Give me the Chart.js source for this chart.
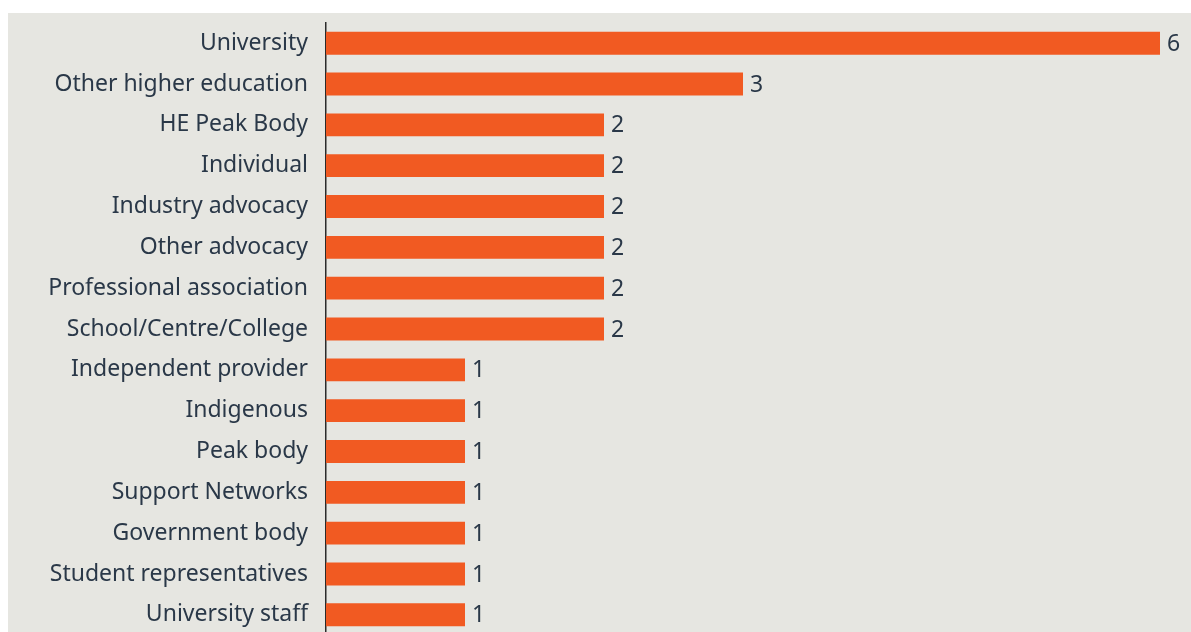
<!DOCTYPE html>
<html>
<head>
<meta charset="utf-8">
<script src="https://cdn.jsdelivr.net/npm/chart.js@4/dist/chart.umd.min.js"></script>
<style>
  html, body { margin: 0; padding: 0; background: #ffffff; overflow: hidden; width: 1191px; height: 632px; position: relative; }
  #panel { position: absolute; left: 8px; top: 13px; width: 1183px; height: 619px; background: #e6e6e1; }
  #chart { position: absolute; left: 8px; top: -9px; display: block; }
</style>
</head>
<body>
<div id="panel"></div>
<canvas id="chart" width="1183" height="676"></canvas>
<script>
// Respondent categories and their counts
const categories = [
  "University",
  "Other higher education",
  "HE Peak Body",
  "Individual",
  "Industry advocacy",
  "Other advocacy",
  "Professional association",
  "School/Centre/College",
  "Independent provider",
  "Indigenous",
  "Peak body",
  "Support Networks",
  "Government body",
  "Student representatives",
  "University staff"
];
const counts = [6, 3, 2, 2, 2, 2, 2, 2, 1, 1, 1, 1, 1, 1, 1];

const BAR_COLOR = "#f15a22";
const TEXT_COLOR = "#2a3848";
const FONT_FAMILY = "'Noto Sans', 'Open Sans', sans-serif";
const FONT_SIZE = 23;

// Writes each bar's count just past its end
const valueLabels = {
  id: "valueLabels",
  afterDatasetsDraw(chart) {
    const ctx = chart.ctx;
    const meta = chart.getDatasetMeta(0);
    ctx.save();
    ctx.font = FONT_SIZE + "px " + FONT_FAMILY;
    ctx.fillStyle = TEXT_COLOR;
    ctx.textAlign = "left";
    ctx.textBaseline = "middle";
    meta.data.forEach((bar, i) => {
      ctx.fillText(String(counts[i]), bar.x + 7, bar.y + 1);
    });
    ctx.restore();
  }
};

new Chart(document.getElementById("chart"), {
  type: "bar",
  data: {
    labels: categories,
    datasets: [{
      data: counts,
      backgroundColor: BAR_COLOR,
      borderWidth: 0,
      categoryPercentage: 1.0,
      barPercentage: 0.56
    }]
  },
  options: {
    indexAxis: "y",
    responsive: false,
    animation: false,
    layout: { padding: { top: 0, bottom: 0, right: 31, left: 0 } },
    plugins: {
      legend: { display: false },
      tooltip: { enabled: false }
    },
    scales: {
      x: {
        display: false,
        min: 0,
        max: 6
      },
      y: {
        afterFit(scale) { scale.width = 318; },
        grid: { display: false, drawTicks: false },
        border: { display: true, color: "#2b2b2b", width: 1.5 },
        ticks: {
          padding: 18,
          color: TEXT_COLOR,
          font: { family: FONT_FAMILY, size: FONT_SIZE }
        }
      }
    }
  },
  plugins: [valueLabels]
});
</script>
</body>
</html>
